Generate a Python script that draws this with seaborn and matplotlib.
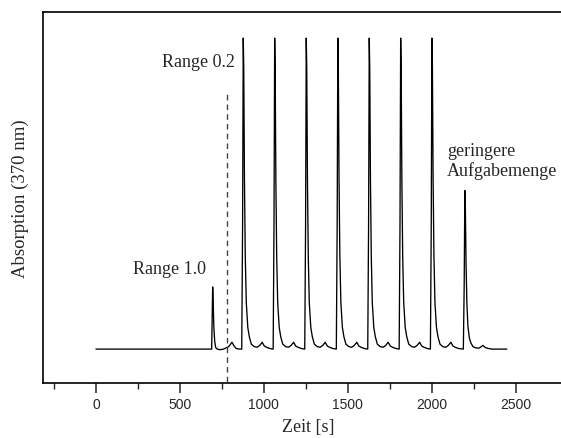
import matplotlib
matplotlib.use("Agg")
import matplotlib.pyplot as plt
import seaborn as sns
import pandas as pd

# ---- data (time in s, absorption in arbitrary units, baseline = 0) ----
zeit_s = [
    0, 300, 680,
    # Range 1.0 peak
    689, 692, 695, 698, 702, 707, 713, 722, 738, 760, 790, 810, 822, 835, 855,
    # Range 0.2 peaks
    868, 873, 877, 880, 884, 889, 895, 904, 913, 925, 942, 960, 975, 990, 1002, 1015, 1035,
    1055, 1060, 1064, 1067, 1071, 1076, 1082, 1091, 1100, 1112, 1129, 1147, 1162, 1177, 1189, 1202, 1222,
    1243, 1248, 1252, 1255, 1259, 1264, 1270, 1279, 1288, 1300, 1317, 1335, 1350, 1365, 1377, 1390, 1410,
    1431, 1436, 1440, 1443, 1447, 1452, 1458, 1467, 1476, 1488, 1505, 1523, 1538, 1553, 1565, 1578, 1598,
    1618, 1623, 1627, 1630, 1634, 1639, 1645, 1654, 1663, 1675, 1692, 1710, 1725, 1740, 1752, 1765, 1785,
    1805, 1810, 1814, 1817, 1821, 1826, 1832, 1841, 1850, 1862, 1879, 1897, 1912, 1927, 1939, 1952, 1972,
    1991, 1996, 2000, 2003, 2007, 2012, 2018, 2027, 2036, 2048, 2065, 2083, 2098, 2113, 2125, 2138, 2158,
    # smaller injected amount
    2187, 2192, 2196, 2199, 2203, 2208, 2214, 2223, 2232, 2244, 2261, 2279, 2292, 2303, 2318, 2335, 2360,
    2446,
]
absorption = [
    0.0, 0.0, 0.0,
    0.0, 0.10, 0.20, 0.15, 0.07, 0.025, 0.005, 0.0, -0.002, 0.0, 0.008, 0.022, 0.010, 0.002, 0.0,
    0.0, 0.40, 1.00, 0.90, 0.55, 0.30, 0.15, 0.07, 0.04, 0.016, 0.008, 0.006, 0.012, 0.022, 0.010, 0.006, 0.002,
    0.0, 0.40, 1.00, 0.90, 0.55, 0.30, 0.15, 0.07, 0.04, 0.016, 0.008, 0.006, 0.012, 0.022, 0.010, 0.006, 0.002,
    0.0, 0.40, 1.00, 0.90, 0.55, 0.30, 0.15, 0.07, 0.04, 0.016, 0.008, 0.006, 0.012, 0.022, 0.010, 0.006, 0.002,
    0.0, 0.40, 1.00, 0.90, 0.55, 0.30, 0.15, 0.07, 0.04, 0.016, 0.008, 0.006, 0.012, 0.022, 0.010, 0.006, 0.002,
    0.0, 0.40, 1.00, 0.90, 0.55, 0.30, 0.15, 0.07, 0.04, 0.016, 0.008, 0.006, 0.012, 0.022, 0.010, 0.006, 0.002,
    0.0, 0.40, 1.00, 0.90, 0.55, 0.30, 0.15, 0.07, 0.04, 0.016, 0.008, 0.006, 0.012, 0.022, 0.010, 0.006, 0.002,
    0.0, 0.40, 1.00, 0.90, 0.55, 0.30, 0.15, 0.07, 0.04, 0.016, 0.008, 0.006, 0.012, 0.022, 0.010, 0.006, 0.002,
    0.0, 0.20, 0.51, 0.46, 0.28, 0.15, 0.075, 0.035, 0.02, 0.008, 0.004, 0.003, 0.007, 0.012, 0.005, 0.002, 0.0,
    0.0,
]
range_switch_s = 780
x_ticks = [0, 500, 1000, 1500, 2000, 2500]
x_minor_ticks = [-250, 250, 750, 1250, 1750, 2250]

sns.set_style("ticks")
plt.rcParams["font.family"] = ["Liberation Serif", "DejaVu Serif"]

fig = plt.figure(figsize=(5.61, 4.39), dpi=100)
ax = fig.add_axes([43 / 561, 55 / 439, 530 / 561, 371 / 439])

df = pd.DataFrame({"Zeit": zeit_s, "Absorption": absorption})
sns.lineplot(data=df, x="Zeit", y="Absorption", ax=ax, color="black",
             linewidth=0.95, estimator=None, sort=False)

ax.plot([range_switch_s, range_switch_s], [-0.2, 0.83], color="#444444",
        linestyle=(0, (4, 3)), linewidth=1.0)

ax.set_xlim(-315, -315 + 530 / 0.168)
ax.set_ylim(-0.109, 1.084)
ax.set_xticks(x_ticks)
ax.set_xticks(x_minor_ticks, minor=True)
ax.set_yticks([])
ax.tick_params(axis="x", which="major", direction="out", length=7, width=1.1, pad=3,
               labelsize=10, labelfontfamily="Liberation Sans")
ax.tick_params(axis="x", which="minor", direction="out", length=4, width=1.0)
for s in ax.spines.values():
    s.set_linewidth(1.2)
    s.set_color("black")
ax.spines["right"].set_visible(False)

ax.set_xlabel("Zeit [s]", fontsize=13, labelpad=5)
ax.set_ylabel("Absorption (370 nm)", fontsize=13.5, va="center")
ax.yaxis.set_label_coords((20 - 43) / 530, 0.5)

ax.text(827, 0.926, "Range 0.2", ha="right", va="center", fontsize=13)
ax.text(218, 0.26, "Range 1.0", ha="left", va="center", fontsize=13)
ax.text(2089, 0.605, "geringere\nAufgabemenge", ha="left", va="center", fontsize=13,
        linespacing=1.15)

fig.savefig("out.png", dpi=100)
